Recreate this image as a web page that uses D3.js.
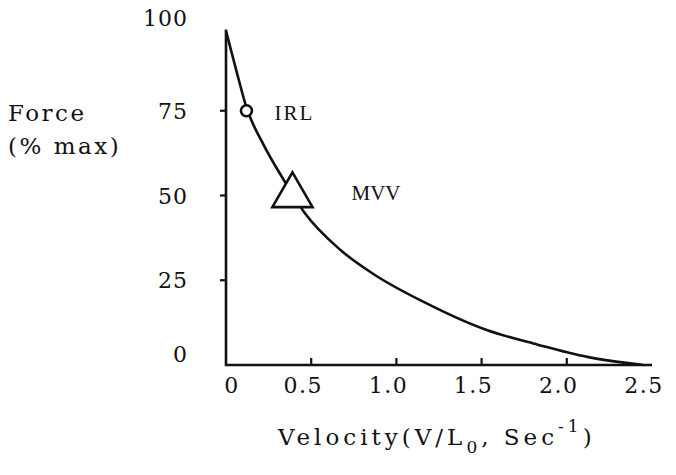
<!DOCTYPE html>
<html>
<head>
<meta charset="utf-8">
<script src="https://cdn.jsdelivr.net/npm/d3@7"></script>
<style>
  body { margin: 0; background: #fff; }
  svg { display: block; }
  .type { font-family: "DejaVu Serif", "Liberation Serif", serif; fill: #111; }
  .serif { font-family: "Liberation Serif", "Times New Roman", serif; fill: #111; }
</style>
</head>
<body>
<script>
// curve
const velocity = [0, 0.06, 0.12, 0.22, 0.34, 0.46, 0.67, 0.86, 1.16, 1.53, 1.83, 2.12, 2.45];
const force    = [98.5, 87, 76, 65, 54.5, 45, 34, 27, 18.6, 10.3, 6, 2.4, 0];

const markerNames = ['IRL', 'MVV'];
const markerVel   = [0.12, 0.39];
const markerForce = [75, 50];

const yTicks = [0, 25, 50, 75, 100];
const yTickLabels = ['0', '25', '50', '75', '100'];
const xTicks = [0, 0.5, 1.0, 1.5, 2.0, 2.5];
const xTickLabels = ['0', '0.5', '1.0', '1.5', '2.0', '2.5'];

const width = 676, height = 475;

const svg = d3.select('body').append('svg')
    .attr('width', width)
    .attr('height', height);

const x = d3.scaleLinear().domain([0, 2.5]).range([226, 652]);
const y = d3.scaleLinear().domain([0, 100]).range([365, 26]);

// axis lines
svg.append('line')
    .attr('x1', x(0)).attr('x2', x(0))
    .attr('y1', y(99)).attr('y2', y(0) + 1)
    .attr('stroke', '#111').attr('stroke-width', 2.6);
svg.append('line')
    .attr('x1', x(0) - 1).attr('x2', x(2.5))
    .attr('y1', y(0)).attr('y2', y(0))
    .attr('stroke', '#111').attr('stroke-width', 2.6);

// tick marks
svg.selectAll('.ytick').data(yTicks.filter(d => d > 0 && d < 100)).enter()
    .append('line')
    .attr('x1', x(0) - 6).attr('x2', x(0))
    .attr('y1', d => y(d)).attr('y2', d => y(d))
    .attr('stroke', '#111').attr('stroke-width', 2.2);
svg.selectAll('.xtick').data(xTicks.filter(d => d > 0 && d < 2.5)).enter()
    .append('line')
    .attr('x1', d => x(d)).attr('x2', d => x(d))
    .attr('y1', y(0) - 7).attr('y2', y(0))
    .attr('stroke', '#111').attr('stroke-width', 2.2);

// tick labels
svg.selectAll('.ylab').data(yTicks).enter()
    .append('text')
    .attr('class', 'type')
    .attr('x', 188)
    .attr('y', d => y(d))
    .attr('dy', d => d === 0 ? -3 : (d === 100 ? 0 : 8))
    .attr('text-anchor', 'end')
    .attr('font-size', 22)
    .attr('letter-spacing', 1)
    .text((d, i) => yTickLabels[i]);

svg.selectAll('.xlab').data(xTicks).enter()
    .append('text')
    .attr('class', 'type')
    .attr('x', d => x(d))
    .attr('dx', d => d === 0 ? 6 : -8)
    .attr('y', y(0) + 28)
    .attr('text-anchor', 'middle')
    .attr('font-size', 22)
    .attr('letter-spacing', 1.5)
    .text((d, i) => xTickLabels[i]);

// curve
const pts = velocity.map((v, i) => [v, force[i]]);
svg.append('path')
    .datum(pts)
    .attr('fill', 'none')
    .attr('stroke', '#111')
    .attr('stroke-width', 2.6)
    .attr('d', d3.line().x(d => x(d[0])).y(d => y(d[1])).curve(d3.curveMonotoneX));

// markers
svg.append('circle')
    .attr('cx', x(markerVel[0])).attr('cy', y(markerForce[0]))
    .attr('r', 5.5)
    .attr('fill', '#fff').attr('stroke', '#111').attr('stroke-width', 2.6);
svg.append('path')
    .attr('transform', `translate(${x(markerVel[1])},${y(markerForce[1])})`)
    .attr('d', d3.symbol().type(d3.symbolTriangle).size(700)())
    .attr('fill', '#fff').attr('stroke', '#111').attr('stroke-width', 2.6);

svg.append('text').attr('class', 'serif')
    .attr('x', x(markerVel[0]) + 28).attr('y', y(markerForce[0]) + 9)
    .attr('font-size', 21)
    .attr('letter-spacing', 2)
    .text(markerNames[0]);
svg.append('text').attr('class', 'serif')
    .attr('x', x(markerVel[1]) + 59).attr('y', y(markerForce[1]) + 4)
    .attr('font-size', 21)
    .text(markerNames[1]);

// axis titles
const yTitle = svg.append('text').attr('class', 'type')
    .attr('font-size', 23).attr('letter-spacing', 2.5);
yTitle.append('tspan').attr('x', 8).attr('y', 121).text('Force');
yTitle.append('tspan').attr('x', 8).attr('y', 154).text('(% max)');

const xTitle = svg.append('text').attr('class', 'type')
    .attr('x', 278).attr('y', 445)
    .attr('font-size', 23).attr('letter-spacing', 4);
xTitle.append('tspan').text('Velocity(V/L');
xTitle.append('tspan').attr('font-size', 17).attr('dy', 8).text('0');
xTitle.append('tspan').attr('dy', -8).text(', Sec');
xTitle.append('tspan').attr('font-size', 17).attr('dy', -13).text('-1');
xTitle.append('tspan').attr('dy', 13).text(')');
</script>
</body>
</html>
